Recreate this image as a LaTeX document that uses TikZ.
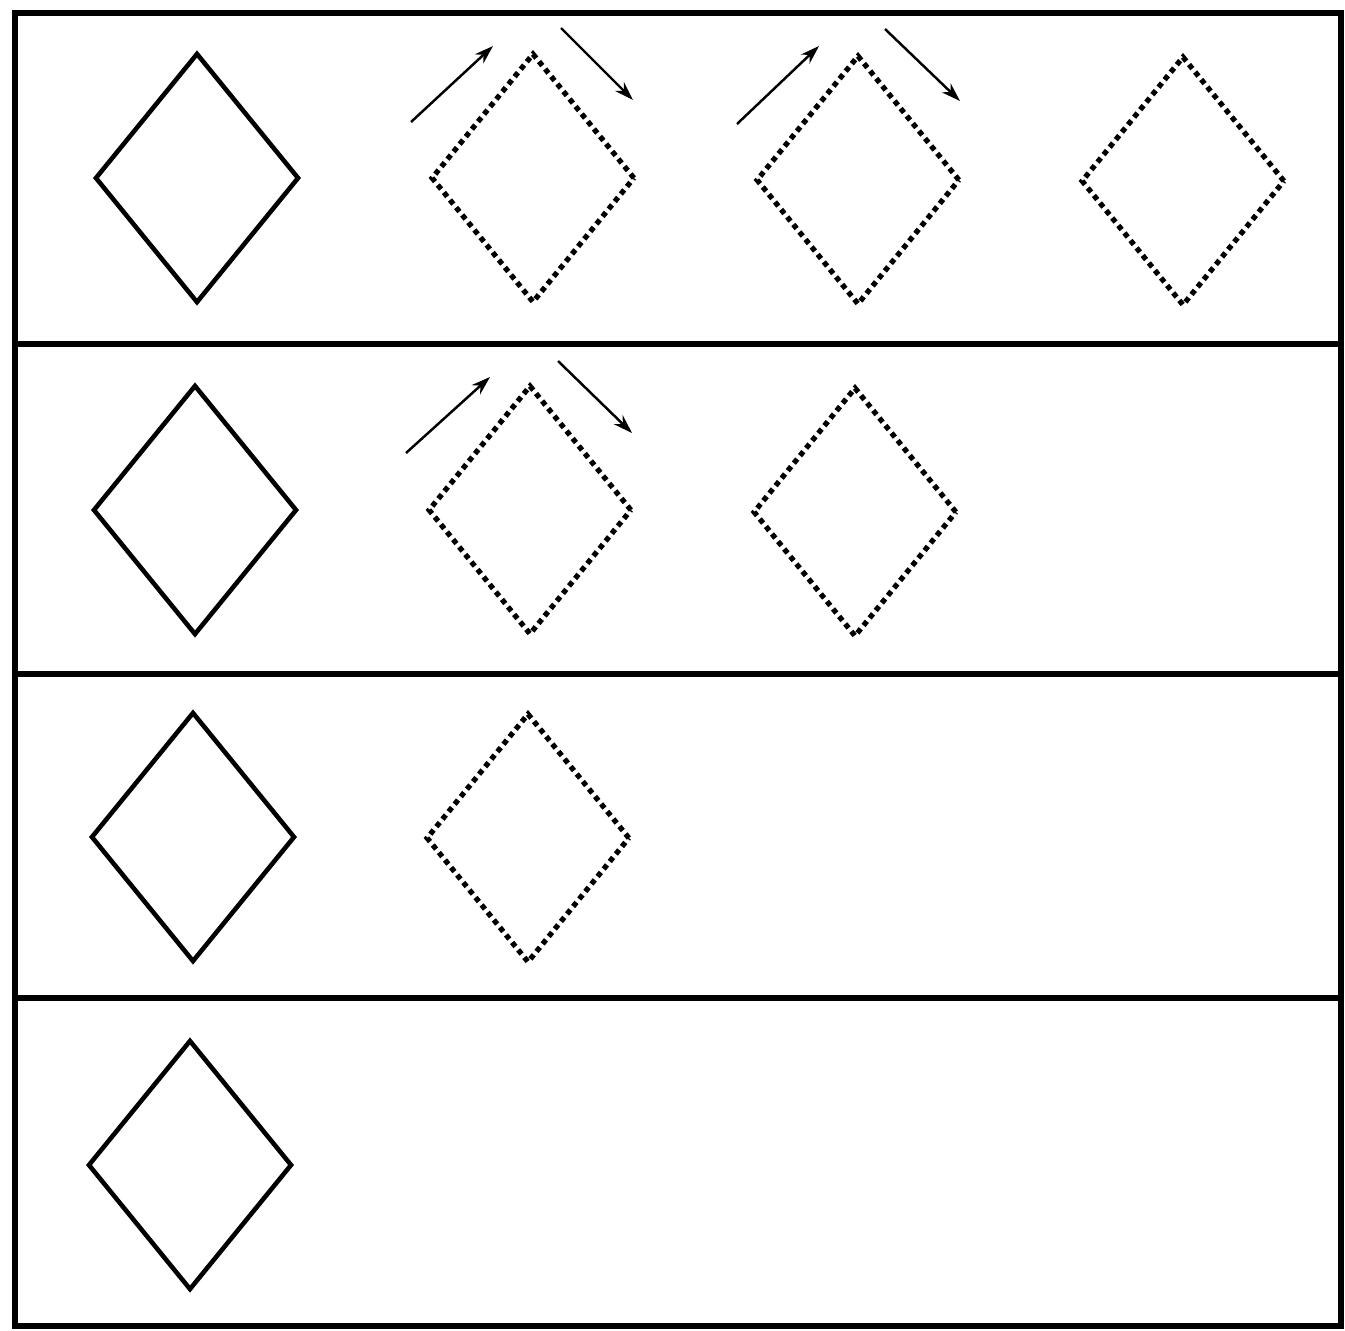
\documentclass[tikz,border=0pt]{standalone}
\usepackage{tikz}
\usetikzlibrary{arrows.meta, calc, shapes.geometric}
\definecolor{inkcol}{HTML}{000000}

\tikzset{
  frameline/.style={inkcol, line width=3pt},
  solidkite/.style={diamond, draw=inkcol, line width=2.6pt, inner sep=0pt,
    minimum width=4.08cm, minimum height=5cm},
  dotkite/.style={solidkite, line width=3pt, dash pattern=on 3pt off 2.5pt},
  flow/.style={->, inkcol, line width=1.4pt},
}

\begin{document}
\begin{tikzpicture}[x=0.02cm, y=-0.02cm, >={Stealth[length=3.8mm, width=2.5mm]}]
\useasboundingbox (0,0) rectangle (1345,1330);
% frame and row rules
\draw[frameline] (15,13) rectangle (1341,1326);
\draw[frameline] (15,344) -- (1341,344);
\draw[frameline] (15,674) -- (1341,674);
\draw[frameline] (15,998) -- (1341,998);
% row 1
\node[solidkite] (r1c1) at (197,178) {};
\node[dotkite] (r1c2) at (533,178) {};
\node[dotkite] (r1c3) at (858,180) {};
\node[dotkite] (r1c4) at (1183,181) {};
\draw[flow] ($(r1c2)+(-122,-56)$) -- ($(r1c2)+(-40,-132)$);
\draw[flow] ($(r1c2)+(28,-150)$) -- ($(r1c2)+(100,-78)$);
\draw[flow] ($(r1c3)+(-121,-56)$) -- ($(r1c3)+(-39,-134)$);
\draw[flow] ($(r1c3)+(27,-151)$) -- ($(r1c3)+(102,-79)$);
% row 2
\node[solidkite] (r2c1) at (195,510) {};
\node[dotkite] (r2c2) at (530,510) {};
\node[dotkite] (r2c3) at (855,512) {};
\draw[flow] ($(r2c2)+(-124,-57)$) -- ($(r2c2)+(-40,-133)$);
\draw[flow] ($(r2c2)+(28,-149)$) -- ($(r2c2)+(102,-77)$);
% row 3
\node[solidkite] (r3c1) at (193,837) {};
\node[dotkite] (r3c2) at (528,838) {};
% row 4
\node[solidkite] (r4c1) at (190,1165) {};
\end{tikzpicture}
\end{document}
